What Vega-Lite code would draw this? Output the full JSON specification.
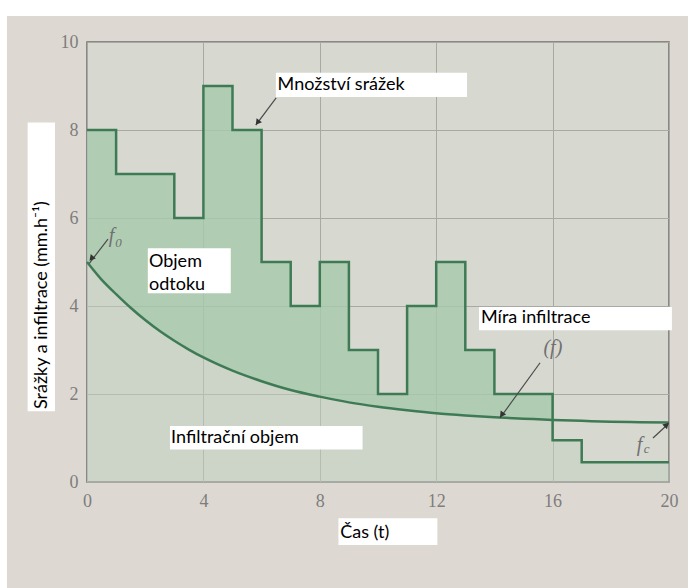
{
  "$schema": "https://vega.github.io/schema/vega-lite/v6.json",
  "width": 582,
  "height": 440,
  "autosize": {"type": "none"},
  "padding": {"left": 87, "top": 42, "right": 19, "bottom": 106},
  "background": "#ddd9d2",
  "config": {
    "view": {"fill": "#d7d8d0", "stroke": "#6e6e6e", "strokeWidth": 1.5},
    "axis": {
      "grid": true,
      "gridColor": "#a8a9a3",
      "gridWidth": 1,
      "domain": false,
      "ticks": false,
      "title": null,
      "labelFont": "Liberation Serif",
      "labelFontSize": 18,
      "labelColor": "#7d7d7d",
      "labelFlush": false,
      "labelOverlap": false
    }
  },
  "datasets": {
    "rain": [
      {"t": 0, "p": 8}, {"t": 1, "p": 7}, {"t": 3, "p": 6}, {"t": 4, "p": 9},
      {"t": 5, "p": 8}, {"t": 6, "p": 5}, {"t": 7, "p": 4}, {"t": 8, "p": 5},
      {"t": 9, "p": 3}, {"t": 10, "p": 2}, {"t": 11, "p": 4}, {"t": 12, "p": 5},
      {"t": 13, "p": 3}, {"t": 14, "p": 2}, {"t": 16, "p": 0.95}, {"t": 17, "p": 0.45},
      {"t": 20, "p": 0.45}
    ],
    "infil": [
      {"t": 0, "f": 5.0}, {"t": 0.5, "f": 4.6}, {"t": 1, "f": 4.27}, {"t": 1.5, "f": 3.96},
      {"t": 2, "f": 3.68}, {"t": 2.5, "f": 3.43}, {"t": 3, "f": 3.21}, {"t": 3.5, "f": 3.01},
      {"t": 4, "f": 2.83}, {"t": 5, "f": 2.53}, {"t": 6, "f": 2.29}, {"t": 7, "f": 2.09},
      {"t": 8, "f": 1.94}, {"t": 9, "f": 1.81}, {"t": 10, "f": 1.71}, {"t": 11, "f": 1.63},
      {"t": 12, "f": 1.56}, {"t": 13, "f": 1.51}, {"t": 14, "f": 1.47}, {"t": 15, "f": 1.44},
      {"t": 16, "f": 1.41}, {"t": 17, "f": 1.39}, {"t": 18, "f": 1.37}, {"t": 19, "f": 1.36},
      {"t": 20, "f": 1.35}
    ],
    "runoff": [
      {"t": 0, "p": 8, "f": 5.0}, {"t": 0.5, "p": 8, "f": 4.6}, {"t": 1, "p": 8, "f": 4.27},
      {"t": 1, "p": 7, "f": 4.27}, {"t": 1.5, "p": 7, "f": 3.96}, {"t": 2, "p": 7, "f": 3.68},
      {"t": 2.5, "p": 7, "f": 3.43}, {"t": 3, "p": 7, "f": 3.21},
      {"t": 3, "p": 6, "f": 3.21}, {"t": 3.5, "p": 6, "f": 3.01}, {"t": 4, "p": 6, "f": 2.83},
      {"t": 4, "p": 9, "f": 2.83}, {"t": 4.5, "p": 9, "f": 2.67}, {"t": 5, "p": 9, "f": 2.53},
      {"t": 5, "p": 8, "f": 2.53}, {"t": 5.5, "p": 8, "f": 2.4}, {"t": 6, "p": 8, "f": 2.29},
      {"t": 6, "p": 5, "f": 2.29}, {"t": 6.5, "p": 5, "f": 2.19}, {"t": 7, "p": 5, "f": 2.09},
      {"t": 7, "p": 4, "f": 2.09}, {"t": 7.5, "p": 4, "f": 2.01}, {"t": 8, "p": 4, "f": 1.94},
      {"t": 8, "p": 5, "f": 1.94}, {"t": 8.5, "p": 5, "f": 1.87}, {"t": 9, "p": 5, "f": 1.81},
      {"t": 9, "p": 3, "f": 1.81}, {"t": 9.5, "p": 3, "f": 1.76}, {"t": 10, "p": 3, "f": 1.71},
      {"t": 10, "p": 2, "f": 1.71}, {"t": 10.5, "p": 2, "f": 1.67}, {"t": 11, "p": 2, "f": 1.63},
      {"t": 11, "p": 4, "f": 1.63}, {"t": 11.5, "p": 4, "f": 1.59}, {"t": 12, "p": 4, "f": 1.56},
      {"t": 12, "p": 5, "f": 1.56}, {"t": 12.5, "p": 5, "f": 1.53}, {"t": 13, "p": 5, "f": 1.51},
      {"t": 13, "p": 3, "f": 1.51}, {"t": 13.5, "p": 3, "f": 1.49}, {"t": 14, "p": 3, "f": 1.47},
      {"t": 14, "p": 2, "f": 1.47}, {"t": 15, "p": 2, "f": 1.44}, {"t": 16, "p": 2, "f": 1.41}
    ],
    "strips": [
      {"t0": -4, "t1": 25, "v0": 10.59, "v1": 12},
      {"t0": -4, "t1": -2.75, "v0": -4, "v1": 12}
    ],
    "boxes": [
      {"t0": 6.49, "t1": 13.06, "v0": 8.75, "v1": 9.3},
      {"t0": 2.09, "t1": 4.94, "v0": 4.29, "v1": 5.31},
      {"t0": 13.47, "t1": 20.1, "v0": 3.45, "v1": 3.98},
      {"t0": 2.85, "t1": 9.47, "v0": 0.74, "v1": 1.27},
      {"t0": 8.64, "t1": 12.04, "v0": -1.43, "v1": -0.825},
      {"t0": -2.04, "t1": -1.1, "v0": 1.61, "v1": 8.17}
    ],
    "notes": [
      {"t": 6.55, "v": 9.02, "label": "Množství srážek"},
      {"t": 2.13, "v": 5.0, "label": "Objem"},
      {"t": 2.13, "v": 4.48, "label": "odtoku"},
      {"t": 13.54, "v": 3.73, "label": "Míra infiltrace"},
      {"t": 2.89, "v": 1.0, "label": "Infiltrační objem"},
      {"t": 8.7, "v": -1.15, "label": "Čas (t)"}
    ],
    "symbols": [
      {"t": 0.84, "v": 5.59, "label": "f"},
      {"t": 16.01, "v": 3.05, "label": "(f)"},
      {"t": 18.99, "v": 0.84, "label": "f"}
    ],
    "subs": [
      {"t": 1.08, "v": 5.43, "label": "0"},
      {"t": 19.23, "v": 0.75, "label": "c"}
    ],
    "arrows": [
      {"t0": 6.5, "v0": 8.73, "t1": 5.8, "v1": 8.11},
      {"t0": 0.72, "v0": 5.52, "t1": 0.08, "v1": 4.97},
      {"t0": 15.57, "v0": 2.71, "t1": 14.19, "v1": 1.45},
      {"t0": 19.45, "v0": 1.0, "t1": 19.99, "v1": 1.33}
    ]
  },
  "layer": [
    {
      "data": {"name": "strips"},
      "mark": {"type": "rect", "fill": "#ffffff"},
      "encoding": {
        "x": {"field": "t0", "type": "quantitative", "scale": {"domain": [0, 20], "nice": false}, "axis": {"values": [0, 4, 8, 12, 16, 20], "labelPadding": 10}},
        "x2": {"field": "t1"},
        "y": {"field": "v0", "type": "quantitative", "scale": {"domain": [0, 10], "nice": false}, "axis": {"values": [0, 2, 4, 6, 8, 10], "labelPadding": 9}},
        "y2": {"field": "v1"}
      }
    },
    {
      "data": {"name": "rain"},
      "mark": {"type": "area", "interpolate": "step-after", "fill": "#c3d0c0", "opacity": 0.5},
      "encoding": {
        "x": {"field": "t", "type": "quantitative"},
        "y": {"field": "p", "type": "quantitative"}
      }
    },
    {
      "data": {"name": "runoff"},
      "mark": {"type": "area", "fill": "#9dc8a7", "opacity": 0.6},
      "encoding": {
        "x": {"field": "t", "type": "quantitative"},
        "y": {"field": "p", "type": "quantitative", "stack": null},
        "y2": {"field": "f"}
      }
    },
    {
      "data": {"name": "rain"},
      "mark": {"type": "line", "interpolate": "step-after", "stroke": "#3e7b55", "strokeWidth": 2.5},
      "encoding": {
        "x": {"field": "t", "type": "quantitative"},
        "y": {"field": "p", "type": "quantitative"}
      }
    },
    {
      "data": {"name": "infil"},
      "mark": {"type": "line", "interpolate": "monotone", "stroke": "#3e7b55", "strokeWidth": 2.5},
      "encoding": {
        "x": {"field": "t", "type": "quantitative"},
        "y": {"field": "f", "type": "quantitative"}
      }
    },
    {
      "data": {"name": "boxes"},
      "mark": {"type": "rect", "fill": "#ffffff"},
      "encoding": {
        "x": {"field": "t0", "type": "quantitative"},
        "x2": {"field": "t1"},
        "y": {"field": "v0", "type": "quantitative"},
        "y2": {"field": "v1"}
      }
    },
    {
      "data": {"name": "notes"},
      "mark": {"type": "text", "font": "Lato", "fontSize": 18, "color": "#000000", "align": "left", "baseline": "middle"},
      "encoding": {
        "x": {"field": "t", "type": "quantitative"},
        "y": {"field": "v", "type": "quantitative"},
        "text": {"field": "label"}
      }
    },
    {
      "data": {"values": [{}]},
      "mark": {"type": "text", "font": "Lato", "fontSize": 18, "color": "#000000", "align": "left", "baseline": "middle", "angle": 270},
      "encoding": {
        "x": {"datum": -1.56, "type": "quantitative"},
        "y": {"datum": 1.66, "type": "quantitative"},
        "text": {"value": "Srážky a infiltrace (mm.h⁻¹)"}
      }
    },
    {
      "data": {"name": "symbols"},
      "mark": {"type": "text", "font": "Liberation Serif", "fontStyle": "italic", "fontSize": 20, "color": "#707070", "align": "center", "baseline": "middle"},
      "encoding": {
        "x": {"field": "t", "type": "quantitative"},
        "y": {"field": "v", "type": "quantitative"},
        "text": {"field": "label"}
      }
    },
    {
      "data": {"name": "subs"},
      "mark": {"type": "text", "font": "Liberation Serif", "fontStyle": "italic", "fontSize": 13, "color": "#707070", "align": "center", "baseline": "middle"},
      "encoding": {
        "x": {"field": "t", "type": "quantitative"},
        "y": {"field": "v", "type": "quantitative"},
        "text": {"field": "label"}
      }
    },
    {
      "data": {"name": "arrows"},
      "mark": {"type": "rule", "stroke": "#4a4a4a", "strokeWidth": 1.2},
      "encoding": {
        "x": {"field": "t0", "type": "quantitative"},
        "x2": {"field": "t1"},
        "y": {"field": "v0", "type": "quantitative"},
        "y2": {"field": "v1"}
      }
    },
    {
      "data": {"values": [{}]},
      "mark": {"type": "point", "shape": "triangle-up", "filled": true, "size": 45, "color": "#333333", "opacity": 1, "angle": 217},
      "encoding": {"x": {"datum": 5.86, "type": "quantitative"}, "y": {"datum": 8.17, "type": "quantitative"}}
    },
    {
      "data": {"values": [{}]},
      "mark": {"type": "point", "shape": "triangle-up", "filled": true, "size": 45, "color": "#333333", "opacity": 1, "angle": 221},
      "encoding": {"x": {"datum": 0.15, "type": "quantitative"}, "y": {"datum": 5.08, "type": "quantitative"}}
    },
    {
      "data": {"values": [{}]},
      "mark": {"type": "point", "shape": "triangle-up", "filled": true, "size": 45, "color": "#333333", "opacity": 1, "angle": 216},
      "encoding": {"x": {"datum": 14.25, "type": "quantitative"}, "y": {"datum": 1.525, "type": "quantitative"}}
    },
    {
      "data": {"values": [{}]},
      "mark": {"type": "point", "shape": "triangle-up", "filled": true, "size": 45, "color": "#333333", "opacity": 1, "angle": 45},
      "encoding": {"x": {"datum": 19.92, "type": "quantitative"}, "y": {"datum": 1.3, "type": "quantitative"}}
    }
  ]
}
